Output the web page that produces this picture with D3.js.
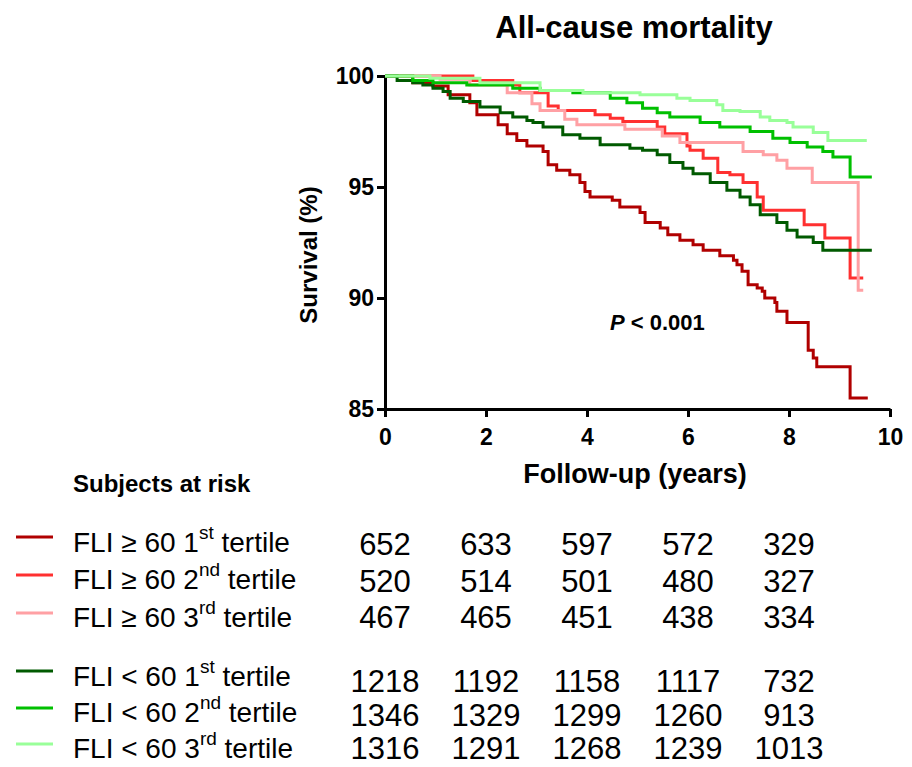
<!DOCTYPE html>
<html>
<head>
<meta charset="utf-8">
<script src="https://cdn.jsdelivr.net/npm/d3@7"></script>
<style>
  body { margin: 0; background: #fff; }
  svg { display: block; font-family: "Liberation Sans", Arial, sans-serif; }
  .axis path, .axis line { stroke: #000; stroke-width: 3px; }
  .axis text { font-size: 23px; font-weight: bold; fill: #000; }
</style>
</head>
<body>
<div id="chart"></div>
<script>
// Kaplan-Meier steps [years, survival %]
const fliHigh1 = [[0,100],[0.55,99.7],[0.95,99.55],[1.25,99.15],[1.68,98.8],[1.82,98.25],[2.24,97.8],[2.42,97.4],[2.61,97.1],[2.81,96.85],[3.13,96.6],[3.23,96.0],[3.4,95.75],[3.66,95.55],[3.86,95.2],[3.96,94.8],[4.06,94.55],[4.5,94.4],[4.65,94.1],[5.05,93.85],[5.15,93.4],[5.45,93.15],[5.6,92.85],[5.84,92.6],[6.1,92.4],[6.3,92.15],[6.63,91.9],[6.9,91.7],[6.97,91.5],[7.07,91.2],[7.19,90.6],[7.37,90.45],[7.47,90.3],[7.52,90.0],[7.72,89.8],[7.76,89.4],[7.96,88.9],[8.38,87.65],[8.48,87.3],[8.55,86.9],[9.21,85.5],[9.56,85.5]];
const fliHigh2 = [[0,100],[1.74,99.8],[2.53,99.6],[2.67,99.25],[3.23,98.65],[3.43,98.45],[4.16,98.25],[4.46,98.1],[4.71,97.95],[5.39,97.7],[5.54,97.4],[5.98,96.85],[6.04,96.65],[6.3,96.3],[6.59,95.65],[6.83,95.55],[7.09,95.2],[7.37,94.55],[7.49,93.95],[8.3,93.3],[8.71,92.7],[9.21,90.9],[9.47,90.9]];
const fliHigh3 = [[0,100],[1.09,99.85],[1.68,99.6],[2.42,99.25],[2.91,98.75],[3.07,98.45],[3.56,98.05],[3.8,97.8],[4.75,97.6],[5.49,97.3],[5.84,97.0],[7.09,96.6],[7.49,96.45],[7.76,96.2],[7.96,95.85],[8.46,95.2],[9.37,90.35],[9.47,90.35]];
const fliLow1 = [[0,100],[0.24,99.8],[0.55,99.7],[0.75,99.6],[0.95,99.45],[1.15,99.3],[1.29,99.0],[1.55,98.85],[1.88,98.6],[2.28,98.35],[2.53,98.15],[2.81,98.0],[2.93,97.9],[3.13,97.7],[3.52,97.35],[3.86,97.2],[4.26,96.9],[4.85,96.75],[5.1,96.65],[5.39,96.45],[5.64,96.1],[5.9,95.85],[6.1,95.6],[6.44,95.2],[6.77,94.85],[7.03,94.55],[7.23,94.2],[7.43,93.75],[7.76,93.4],[7.96,93.05],[8.16,92.75],[8.48,92.5],[8.67,92.15],[9.64,92.15]];
const fliLow2 = [[0,100],[0.55,99.8],[0.95,99.7],[1.62,99.6],[2.53,99.45],[3.07,99.35],[3.72,99.25],[4.46,99.0],[4.79,98.8],[5.1,98.55],[5.39,98.35],[5.64,98.15],[6.24,97.9],[6.63,97.7],[7.23,97.5],[7.68,97.2],[8.02,97.0],[8.36,96.8],[8.67,96.6],[8.87,96.35],[9.21,95.45],[9.64,95.45]];
const fliLow3 = [[0,100],[0.89,99.9],[1.88,99.7],[3.07,99.35],[3.92,99.25],[5.05,99.15],[5.78,99.0],[6.04,98.9],[6.57,98.7],[6.69,98.45],[7.03,98.4],[7.43,98.15],[7.62,98.0],[7.96,97.9],[8.08,97.7],[8.48,97.45],[8.77,97.1],[9.54,97.1]];

const groupPrefix = ["FLI \u2265 60 ", "FLI \u2265 60 ", "FLI \u2265 60 ", "FLI < 60 ", "FLI < 60 ", "FLI < 60 "];
const tertileNum = ["1", "2", "3", "1", "2", "3"];
const tertileSup = ["st", "nd", "rd", "st", "nd", "rd"];
const colors = ["#b00000", "#ff3030", "#ffa0a4", "#005a00", "#00c000", "#99ff99"];
const curves = [fliHigh1, fliHigh2, fliHigh3, fliLow1, fliLow2, fliLow3];

// subjects at risk at years 0, 2, 4, 6, 8
const riskYears = [0, 2, 4, 6, 8];
const atRisk = [
  [652, 633, 597, 572, 329],
  [520, 514, 501, 480, 327],
  [467, 465, 451, 438, 334],
  [1218, 1192, 1158, 1117, 732],
  [1346, 1329, 1299, 1260, 913],
  [1316, 1291, 1268, 1239, 1013]
];

const xTicks = [0, 2, 4, 6, 8, 10];
const yTicks = [85, 90, 95, 100];

const W = 912, H = 767;
const svg = d3.select("#chart").append("svg")
  .attr("width", W)
  .attr("height", H);

const x = d3.scaleLinear().domain([0, 10]).range([385, 890]);
const y = d3.scaleLinear().domain([85, 100]).range([409, 76]);

// Title
svg.append("text")
  .attr("x", 634).attr("y", 38)
  .attr("text-anchor", "middle")
  .attr("font-size", "31px").attr("font-weight", "bold")
  .text("All-cause mortality");

// Axes
svg.append("g")
  .attr("class", "axis")
  .attr("transform", "translate(0,409)")
  .call(d3.axisBottom(x).tickValues(xTicks).tickFormat(d3.format("d")).tickSize(8).tickSizeOuter(0).tickPadding(12));

svg.append("g")
  .attr("class", "axis")
  .attr("transform", "translate(385,0)")
  .call(d3.axisLeft(y).tickValues(yTicks).tickSize(8).tickSizeOuter(0).tickPadding(3));

// Axis labels
svg.append("text")
  .attr("x", 635).attr("y", 483)
  .attr("text-anchor", "middle")
  .attr("font-size", "27px").attr("font-weight", "bold")
  .text("Follow-up (years)");

svg.append("text")
  .attr("transform", "translate(317,255) rotate(-90)")
  .attr("text-anchor", "middle")
  .attr("font-size", "24px").attr("font-weight", "bold")
  .text("Survival (%)");

// P value
const pText = svg.append("text")
  .attr("x", 610).attr("y", 330)
  .attr("font-size", "22px").attr("font-weight", "bold");
pText.append("tspan").attr("font-style", "italic").text("P");
pText.append("tspan").text(" < 0.001");

// Survival curves
const line = d3.line()
  .x(d => x(d[0]))
  .y(d => y(d[1]))
  .curve(d3.curveStepAfter);

svg.append("g").selectAll("path")
  .data(curves)
  .enter().append("path")
  .attr("d", line)
  .attr("fill", "none")
  .attr("stroke", (d, i) => colors[i])
  .attr("stroke-width", 3);

// Subjects at risk table
svg.append("text")
  .attr("x", 73).attr("y", 492)
  .attr("font-size", "24px").attr("font-weight", "bold")
  .text("Subjects at risk");

const lineY = [537, 575, 613, 671, 708, 744];
const labelY = [552, 589, 627, 686, 722, 758];
const numY = [555, 592, 628, 692, 726, 759];

const rows = svg.append("g").selectAll("g")
  .data(atRisk)
  .enter().append("g");

rows.append("line")
  .attr("x1", 16).attr("x2", 53)
  .attr("y1", (d, i) => lineY[i]).attr("y2", (d, i) => lineY[i])
  .attr("stroke", (d, i) => colors[i])
  .attr("stroke-width", 3);

const labels = rows.append("text")
  .attr("x", 73).attr("y", (d, i) => labelY[i])
  .attr("font-size", "28px");
labels.append("tspan").text((d, i) => groupPrefix[i] + tertileNum[i]);
labels.append("tspan").attr("dy", -13).attr("font-size", "19px").text((d, i) => tertileSup[i]);
labels.append("tspan").attr("dy", 13).text(" tertile");

rows.each(function(d, i) {
  d3.select(this).selectAll("text.num")
    .data(d)
    .enter().append("text")
    .attr("class", "num")
    .attr("x", (v, j) => x(riskYears[j]))
    .attr("y", numY[i])
    .attr("text-anchor", "middle")
    .attr("font-size", "31px")
    .text(v => v);
});
</script>
</body>
</html>
